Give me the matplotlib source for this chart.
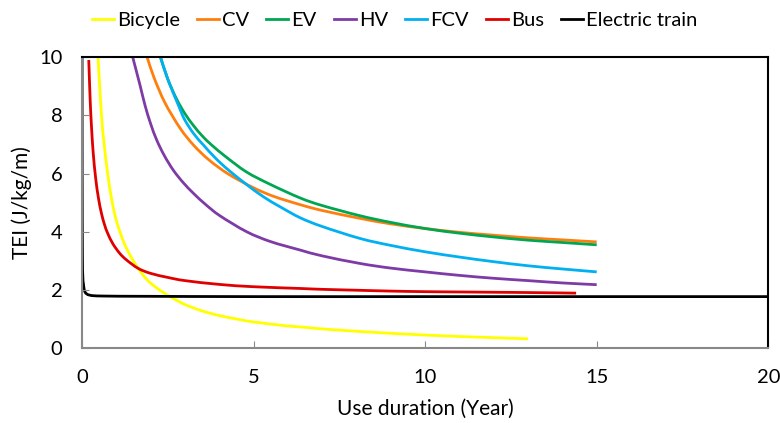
import matplotlib
matplotlib.use("Agg")
import matplotlib.pyplot as plt
import numpy as np
from matplotlib.path import Path
from matplotlib.patches import PathPatch
from matplotlib.lines import Line2D

# ---- data ----
bicycle_x = [0.47, 0.57, 0.65, 0.75, 0.87, 1.0, 1.2, 1.4, 1.64, 1.9, 2.2, 2.57, 3.0, 3.5, 4.0, 4.6, 5.0, 6.0, 6.36, 7.0, 8.0, 9.0, 10.0, 11.0, 12.0, 13.0]
bicycle_y = [10.0, 8.0, 7.0, 6.0, 5.1, 4.4, 3.7, 3.2, 2.74, 2.35, 2.05, 1.77, 1.5, 1.28, 1.12, 0.98, 0.9, 0.76, 0.73, 0.66, 0.58, 0.51, 0.45, 0.40, 0.36, 0.32]

cv_x = [1.90, 2.1, 2.42, 2.86, 3.25, 3.7, 4.27, 5.0, 5.6, 6.36, 7.0, 8.1, 9.0, 10.0, 11.0, 12.0, 13.0, 14.0, 15.0]
cv_y = [10.0, 9.3, 8.43, 7.56, 6.98, 6.47, 5.98, 5.51, 5.21, 4.93, 4.73, 4.46, 4.27, 4.11, 3.98, 3.88, 3.79, 3.72, 3.65]

ev_x = [2.29, 2.5, 2.75, 3.0, 3.25, 3.5, 3.78, 4.2, 4.8, 5.5, 6.36, 7.0, 8.1, 9.0, 10.0, 11.0, 12.0, 13.0, 14.0, 15.0]
ev_y = [10.0, 9.25, 8.58, 8.06, 7.65, 7.30, 6.98, 6.57, 6.05, 5.62, 5.16, 4.90, 4.55, 4.32, 4.11, 3.95, 3.82, 3.71, 3.63, 3.55]

hv_x = [1.48, 1.69, 1.84, 2.0, 2.18, 2.4, 2.66, 2.95, 3.25, 3.6, 4.02, 4.8, 5.5, 6.36, 7.0, 8.1, 9.0, 10.0, 11.0, 12.0, 13.0, 14.0, 15.0]
hv_y = [10.0, 9.05, 8.34, 7.72, 7.15, 6.62, 6.12, 5.69, 5.32, 4.94, 4.55, 4.0, 3.66, 3.37, 3.17, 2.91, 2.75, 2.62, 2.50, 2.40, 2.32, 2.24, 2.18]

fcv_x = [2.29, 2.5, 2.81, 2.99, 3.25, 3.54, 3.9, 4.27, 4.8, 5.29, 5.77, 6.36, 7.0, 8.1, 9.0, 10.0, 11.0, 12.0, 13.0, 14.0, 15.0]
fcv_y = [10.0, 9.25, 8.35, 7.86, 7.38, 6.98, 6.52, 6.12, 5.62, 5.2, 4.86, 4.48, 4.18, 3.77, 3.53, 3.31, 3.13, 2.97, 2.83, 2.72, 2.62]

bus_x = [0.20, 0.24, 0.28, 0.33, 0.40, 0.48, 0.57, 0.66, 0.75, 0.9, 1.1, 1.3, 1.64, 2.0, 2.5, 3.0, 4.0, 5.0, 6.36, 7.0, 8.0, 9.0, 10.0, 11.0, 12.0, 13.0, 14.4]
bus_y = [9.9, 8.55, 7.6, 6.7, 5.85, 5.17, 4.63, 4.24, 3.95, 3.59, 3.26, 3.03, 2.74, 2.57, 2.43, 2.32, 2.19, 2.11, 2.05, 2.02, 1.99, 1.96, 1.94, 1.93, 1.92, 1.91, 1.89]

train_x = [0.004, 0.008, 0.015, 0.025, 0.045, 0.09, 0.23, 0.62, 2.0, 5.0, 10.0, 15.0, 20.0]
train_y = [11.0, 6.0, 3.3, 2.5, 2.2, 1.93, 1.82, 1.79, 1.78, 1.77, 1.77, 1.77, 1.77]

series = [
    ("Bicycle", bicycle_x, bicycle_y, "#FFFF00"),
    ("CV", cv_x, cv_y, "#FF7F0E"),
    ("EV", ev_x, ev_y, "#00A651"),
    ("HV", hv_x, hv_y, "#7E3BA6"),
    ("FCV", fcv_x, fcv_y, "#00B0F0"),
    ("Bus", bus_x, bus_y, "#E00000"),
    ("Electric train", train_x, train_y, "#000000"),
]

x_ticks = [0, 5, 10, 15, 20]
y_ticks = [0, 2, 4, 6, 8, 10]

plt.rcParams['font.family'] = ['Lato', 'DejaVu Sans']

fig = plt.figure(figsize=(7.8, 4.23), dpi=100)
ax = fig.add_axes([0.105, 0.177, 0.880, 0.688])
ax.set_xlim(0, 20)
ax.set_ylim(0, 10)


def smooth_path(xs, ys):
    """Smoothed line through the data points (like a spreadsheet 'smoothed line'),
    built as cubic Bezier segments in display space, then mapped back to data."""
    pts = ax.transData.transform(np.column_stack([xs, ys]))
    n = len(pts)
    verts = [pts[0]]
    codes = [Path.MOVETO]
    for i in range(n - 1):
        p0 = pts[i - 1] if i > 0 else pts[i]
        p1 = pts[i]
        p2 = pts[i + 1]
        p3 = pts[i + 2] if i + 2 < n else pts[i + 1]
        c1 = p1 + (p2 - p0) / 6.0
        c2 = p2 - (p3 - p1) / 6.0
        verts += [c1, c2, p2]
        codes += [Path.CURVE4] * 3
    verts = ax.transData.inverted().transform(np.array(verts))
    return Path(verts, codes)


handles = []
for name, xs, ys, col in series:
    patch = PathPatch(smooth_path(xs, ys), facecolor='none', edgecolor=col,
                      lw=2.0, transform=ax.transData, capstyle='butt')
    ax.add_patch(patch)
    handles.append(Line2D([], [], color=col, lw=2.0, label=name))

ax.set_xticks(x_ticks)
ax.set_yticks(y_ticks)
ax.tick_params(direction='in', length=5, color='#888888', labelsize=14.5)
ax.tick_params(axis='x', pad=15)
ax.tick_params(axis='y', pad=14)

for s in ['left', 'bottom']:
    ax.spines[s].set_color('#888888')
    ax.spines[s].set_linewidth(1.5)
for s in ['top', 'right']:
    ax.spines[s].set_color('#000000')
    ax.spines[s].set_linewidth(1.5)

ax.set_xlabel("Use duration (Year)", fontsize=15, labelpad=9)
ax.set_ylabel("TEI (J/kg/m)", fontsize=15, labelpad=5)

fig.legend(handles=handles, loc='upper center', bbox_to_anchor=(0.506, 1.015), ncol=7,
           frameon=False, fontsize=14.5, handlelength=1.1, handletextpad=0.15,
           columnspacing=0.85)

fig.savefig("out.png", dpi=100)
